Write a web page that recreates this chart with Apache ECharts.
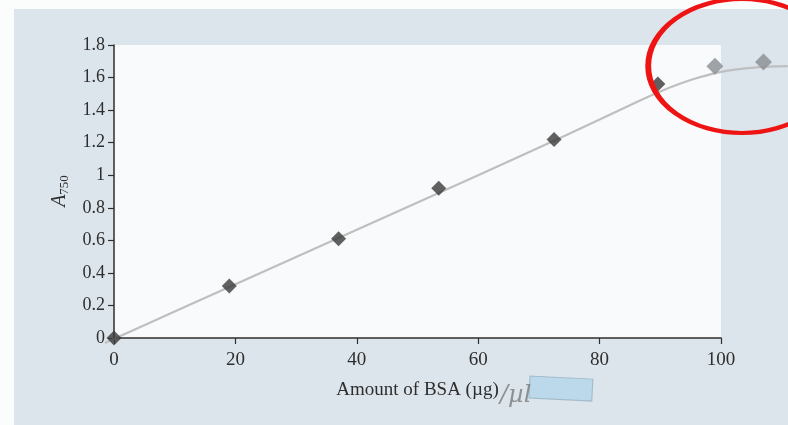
<!DOCTYPE html>
<html>
<head>
<meta charset="utf-8">
<script src="https://cdn.jsdelivr.net/npm/echarts@6/dist/echarts.min.js"></script>
<style>
  html, body { margin: 0; padding: 0; background: #ffffff; }
  #chart { width: 788px; height: 425px; }
</style>
</head>
<body>
<div id="chart"></div>
<script>
// BSA standard curve (Lowry assay): absorbance at 750 nm vs. amount of BSA
const bsaAmounts = [0, 19, 37, 53.5, 72.5, 89.6, 99, 107];
const absorbance = [0, 0.32, 0.61, 0.92, 1.22, 1.56, 1.67, 1.695];
// readings past the linear range are printed faded
const fadedPoints = [false, false, false, false, false, false, true, true];

// fitted calibration curve
const fitX = [-1.5, 20, 40, 60, 75, 85, 90, 95, 100, 105, 111];
const fitY = [-0.03, 0.33, 0.665, 1.0, 1.255, 1.43, 1.515, 1.585, 1.635, 1.66, 1.67];

const xTicks = { min: 0, max: 100, step: 20 };
const yTicks = { min: 0, max: 1.8, step: 0.2 };

const serif = '"Liberation Serif", "DejaVu Serif", serif';
const ink = '#2e2e2e';

const W = 788, H = 425;
const plot = { left: 114, right: 67, top: 45, bottom: 87 };
const plotW = W - plot.left - plot.right;
const plotH = H - plot.top - plot.bottom;

// the fitted curve runs past the framed axes, so it lives on an
// unframed grid whose scale lines up with the main one
const fitXRange = [Math.min(...fitX), Math.max(...fitX)];
const fitYRange = [Math.min(...fitY), yTicks.max];
const pxPerX = plotW / (xTicks.max - xTicks.min);
const pxPerY = plotH / (yTicks.max - yTicks.min);
const fitGrid = {
  left: plot.left + (fitXRange[0] - xTicks.min) * pxPerX,
  right: plot.right - (fitXRange[1] - xTicks.max) * pxPerX,
  top: plot.top,
  bottom: plot.bottom + (fitYRange[0] - yTicks.min) * pxPerY
};

const chart = echarts.init(document.getElementById('chart'), null, { renderer: 'canvas' });

const pointData = bsaAmounts.map((x, i) => ({
  value: [x, absorbance[i]],
  symbolSize: fadedPoints[i] ? 17 : 15,
  itemStyle: fadedPoints[i]
    ? { color: '#8e9398', opacity: 0.85 }
    : { color: '#3a3a3a' }
}));

const fitData = fitX.map((x, i) => [x, fitY[i]]);

chart.setOption({
  backgroundColor: '#dde5ec',
  animation: false,
  grid: [
    Object.assign({ show: true, backgroundColor: '#f8fafb', borderWidth: 0 }, plot),
    Object.assign({ show: false }, fitGrid)
  ],
  xAxis: [
    {
      type: 'value', gridIndex: 0,
      min: xTicks.min, max: xTicks.max, interval: xTicks.step,
      splitLine: { show: false },
      axisLine: { show: true, onZero: false, lineStyle: { color: ink, width: 1.5 } },
      axisTick: { show: true, length: 6, lineStyle: { color: ink, width: 1.2 } },
      axisLabel: { color: ink, fontFamily: serif, fontSize: 19, margin: 13 },
      name: 'Amount of BSA (µg)',
      nameLocation: 'middle',
      nameGap: 43,
      nameTextStyle: { color: ink, fontFamily: serif, fontSize: 19 }
    },
    {
      type: 'value', gridIndex: 1, show: false,
      min: fitXRange[0], max: fitXRange[1]
    }
  ],
  yAxis: [
    {
      type: 'value', gridIndex: 0,
      min: yTicks.min, max: yTicks.max, interval: yTicks.step,
      splitLine: { show: false },
      axisLine: { show: true, onZero: false, lineStyle: { color: ink, width: 1.5 } },
      axisTick: { show: true, length: 6, lineStyle: { color: ink, width: 1.2 } },
      axisLabel: { color: ink, fontFamily: serif, fontSize: 18, margin: 9 }
    },
    {
      type: 'value', gridIndex: 1, show: false,
      min: fitYRange[0], max: fitYRange[1]
    }
  ],
  graphic: [
    // paper margins
    { type: 'rect', left: 0, top: 0, shape: { width: W, height: 9 }, style: { fill: '#fbfcfc' }, z: 0 },
    { type: 'rect', left: 0, top: 0, shape: { width: 14, height: H }, style: { fill: '#fbfcfc' }, z: 0 },
    // y-axis title: A with subscript 750
    {
      type: 'text', x: 60, y: 191, rotation: Math.PI / 2,
      style: {
        text: '{a|A}{s|750}',
        align: 'center', verticalAlign: 'middle',
        rich: {
          a: { fontFamily: serif, fontSize: 20, fontStyle: 'italic', fill: ink },
          s: { fontFamily: serif, fontSize: 13, fill: ink, padding: [9, 0, 0, 0] }
        }
      },
      z: 10
    },
    // highlighter stroke
    {
      type: 'rect', x: 530, y: 376, rotation: -0.05,
      shape: { width: 63, height: 22 },
      style: { fill: 'rgba(160, 205, 235, 0.55)', stroke: 'rgba(120,150,170,0.5)', lineWidth: 1 }, z: 9
    },
    // pencil note next to the unit
    {
      type: 'text', x: 500, y: 396,
      style: {
        text: '/µl', fontFamily: '"DejaVu Serif", serif', fontStyle: 'italic',
        fontSize: 24, fill: 'rgba(115,115,115,0.75)', verticalAlign: 'middle'
      }, z: 11
    },
    // red pen ellipse around the saturated readings
    {
      type: 'circle', x: 742, y: 66, scaleX: 1.4, scaleY: 1.0,
      shape: { cx: 0, cy: 0, r: 67 },
      style: { fill: 'none', stroke: '#ee1414', lineWidth: 4.2 }, z: 20
    }
  ],
  series: [
    {
      name: 'fit',
      type: 'line',
      xAxisIndex: 1, yAxisIndex: 1,
      data: fitData,
      smooth: 0.4,
      showSymbol: false,
      clip: false,
      lineStyle: { color: '#bfbfbf', width: 2.2 },
      z: 2
    },
    {
      name: 'BSA standards',
      type: 'scatter',
      xAxisIndex: 0, yAxisIndex: 0,
      data: pointData,
      symbol: 'diamond',
      clip: false,
      z: 3
    }
  ]
});
</script>
</body>
</html>
